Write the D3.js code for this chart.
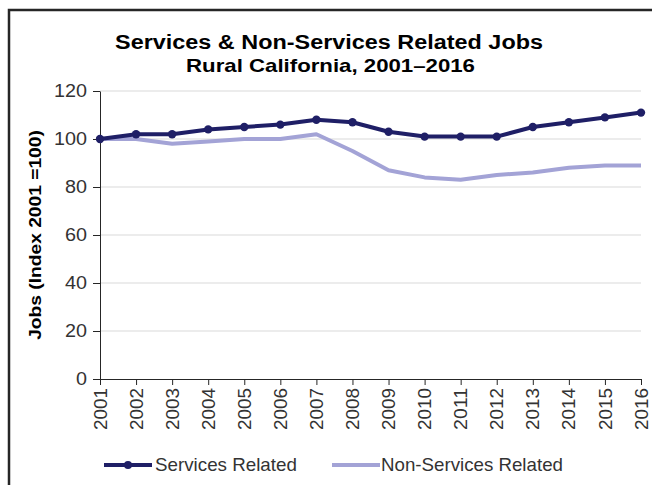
<!DOCTYPE html>
<html><head><meta charset="utf-8">
<script src="https://cdn.jsdelivr.net/npm/d3@7"></script>
<style>body{margin:0;background:#fff;}svg{display:block;font-family:"Liberation Sans",Arial,sans-serif;}</style>
</head><body>
<svg id="chart" width="652" height="485"></svg>
<script>
const years = ["2001","2002","2003","2004","2005","2006","2007","2008","2009","2010","2011","2012","2013","2014","2015","2016"];
const servicesRelated = [100,102,102,104,105,106,108,107,103,101,101,101,105,107,109,111];
const nonServicesRelated = [100,100,98,99,100,100,102,95,87,84,83,85,86,88,89,89];
const yTicks = [0,20,40,60,80,100,120];
const seriesNames = ["Services Related","Non-Services Related"];
const colors = ["#1f1f66","#a3a3d6"];
const FONT = "Liberation Sans, Arial, sans-serif";

// place text at (tx,ty) with optional rotation, stretched along its reading direction to target width
function fit(sel, tx, ty, rot, target) {
  sel.each(function(d){
    const t = d3.select(this).attr("x",0).attr("y",0);
    const w = this.getComputedTextLength();
    const tw = typeof target === "function" ? target(d) : target;
    const s = tw / w;
    const X = typeof tx === "function" ? tx(d) : tx;
    t.attr("transform", `translate(${X},${ty}) rotate(${rot}) scale(${s},1)`);
  });
}

const svg = d3.select("#chart");
svg.append("path").attr("d","M9,485 V10 H652").attr("fill","none").attr("stroke","#262626").attr("stroke-width",2.5);

svg.append("text").attr("text-anchor","middle")
  .attr("font-size",20.5).attr("font-weight","bold").attr("fill","#000")
  .text("Services & Non-Services Related Jobs").call(fit,329,49,0,428);
svg.append("text").attr("text-anchor","middle")
  .attr("font-size",18.5).attr("font-weight","bold").attr("fill","#000")
  .text("Rural California, 2001–2016").call(fit,330.5,71.5,0,289);

const x = d3.scalePoint().domain(years).range([100,641]);
const y = d3.scaleLinear().domain([0,120]).range([379,91]);

svg.append("g").selectAll("line").data(yTicks.filter(d=>d>0)).join("line")
  .attr("x1",100).attr("x2",641).attr("y1",d=>y(d)).attr("y2",d=>y(d))
  .attr("stroke","#d9d9d9").attr("stroke-width",1);

const yAxis = svg.append("g").attr("transform","translate(100,0)")
  .call(d3.axisLeft(y).tickValues(yTicks).tickSize(7).tickPadding(6).tickSizeOuter(0));
yAxis.select(".domain").attr("stroke","#262626");
yAxis.selectAll(".tick line").attr("stroke","#262626");
yAxis.selectAll("text").attr("font-size",17.5).attr("fill","#333").attr("font-family",FONT)
  .call(fit,-13,0,0,d=>String(d).length*11);

const xAxis = svg.append("g").attr("transform","translate(0,379)")
  .call(d3.axisBottom(x).tickSize(6).tickPadding(0).tickSizeOuter(0));
xAxis.select(".domain").attr("stroke","#262626");
xAxis.selectAll(".tick line").attr("stroke","#262626");
xAxis.selectAll("text").attr("font-size",17.5).attr("fill","#333").attr("font-family",FONT)
  .attr("text-anchor","end").attr("dy","0.35em")
  .call(fit,0,9,-90,42);

svg.append("text").attr("text-anchor","middle")
  .attr("font-size",17).attr("font-weight","bold").attr("fill","#000")
  .text("Jobs  (Index 2001 =100)").call(fit,41,235,-90,210);

const line = d3.line().x((d,i)=>x(years[i])).y(d=>y(d));
svg.append("path").datum(nonServicesRelated).attr("d",line).attr("fill","none")
  .attr("stroke",colors[1]).attr("stroke-width",4).attr("stroke-linejoin","round");
svg.append("path").datum(servicesRelated).attr("d",line).attr("fill","none")
  .attr("stroke",colors[0]).attr("stroke-width",4).attr("stroke-linejoin","round");
svg.append("g").selectAll("circle").data(servicesRelated).join("circle")
  .attr("cx",(d,i)=>x(years[i])).attr("cy",d=>y(d)).attr("r",4.2).attr("fill",colors[0]);

const lg = svg.append("g");
lg.append("line").attr("x1",104).attr("x2",152).attr("y1",465).attr("y2",465).attr("stroke",colors[0]).attr("stroke-width",4);
lg.append("circle").attr("cx",128).attr("cy",465).attr("r",4).attr("fill",colors[0]);
lg.append("text").attr("font-size",17.5).attr("fill","#333").text(seriesNames[0]).call(fit,155,471,0,142);
lg.append("line").attr("x1",332).attr("x2",380).attr("y1",465).attr("y2",465).attr("stroke",colors[1]).attr("stroke-width",4);
lg.append("text").attr("font-size",17.5).attr("fill","#333").text(seriesNames[1]).call(fit,381,471,0,182);
</script>
</body></html>
